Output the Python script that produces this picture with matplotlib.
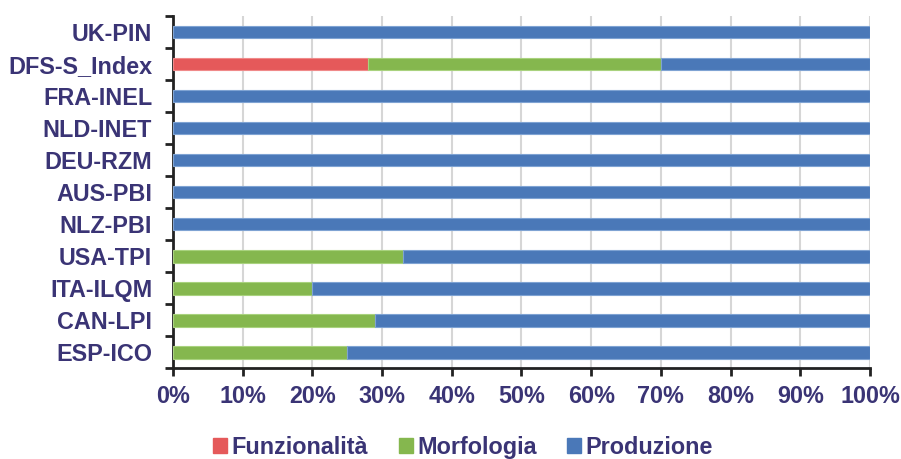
import matplotlib
matplotlib.use('Agg')
import matplotlib.pyplot as plt
import matplotlib.patches as mpatches
import numpy as np

# ── data (percent) ──
categories = ['UK-PIN', 'DFS-S_Index', 'FRA-INEL', 'NLD-INET', 'DEU-RZM', 'AUS-PBI',
              'NLZ-PBI', 'USA-TPI', 'ITA-ILQM', 'CAN-LPI', 'ESP-ICO']
funzionalita = [0, 28, 0, 0, 0, 0, 0, 0, 0, 0, 0]
morfologia = [0, 42, 0, 0, 0, 0, 0, 33, 20, 29, 25]
produzione = [100, 30, 100, 100, 100, 100, 100, 67, 80, 71, 75]
series_names = ['Funzionalità', 'Morfologia', 'Produzione']

RED = '#E5595A'
GREEN = '#85B74E'
BLUE = '#4A78B8'
TEXT = '#3A3475'
EDGES = ['#F08A8A', '#A9D27E', '#7FA3D3']

plt.rcParams.update({
    'font.family': ['Liberation Sans', 'DejaVu Sans'],
    'font.weight': 'bold',
    'font.size': 16.8,
})

fig = plt.figure(figsize=(9.01, 4.59), dpi=100)
ax = fig.add_axes([0.192, 0.198, 0.7736, 0.767])

y = np.arange(len(categories))[::-1]
h = 0.4
left = np.zeros(len(categories))
for vals, col, ec, name in zip([funzionalita, morfologia, produzione],
                               [RED, GREEN, BLUE], EDGES, series_names):
    v = np.array(vals) / 100.0
    ax.barh(y, v, h, left=left, color=col, edgecolor=ec, linewidth=0.8,
            label=name, zorder=3)
    left += v

ax.set_xlim(0, 1)
ax.set_ylim(-0.5, len(categories) - 0.5)
ax.set_xticks(np.arange(0, 1.01, 0.1))
ax.set_xticklabels([f'{int(round(t * 100))}%' for t in np.arange(0, 1.01, 0.1)])
ax.set_yticks(y)
ax.set_yticklabels(categories)
ax.set_yticks(np.arange(-0.5, len(categories), 1), minor=True)

ax.tick_params(axis='y', which='major', length=0, pad=15, labelcolor=TEXT)
ax.tick_params(axis='y', which='minor', length=6, width=2, color='#222222', direction='out')
ax.tick_params(axis='x', which='major', length=6, width=2, color='#222222',
               direction='out', pad=6, labelcolor=TEXT)

ax.grid(axis='x', color='#D6D6D6', linewidth=1.5, zorder=0)
ax.grid(axis='y', visible=False)
for s in ['top', 'right']:
    ax.spines[s].set_visible(False)
for s in ['left', 'bottom']:
    ax.spines[s].set_linewidth(2)
    ax.spines[s].set_color('#222222')

handles = [mpatches.Patch(color=c, label=n) for c, n in zip([RED, GREEN, BLUE], series_names)]
leg = fig.legend(handles=handles, loc='center', bbox_to_anchor=(0.514, 0.026), ncol=3,
                 frameon=False, handlelength=0.6, handleheight=0.6, handletextpad=0.2,
                 columnspacing=1.3, fontsize=16.8)
for t in leg.get_texts():
    t.set_color(TEXT)

fig.savefig('out.png', dpi=100)
